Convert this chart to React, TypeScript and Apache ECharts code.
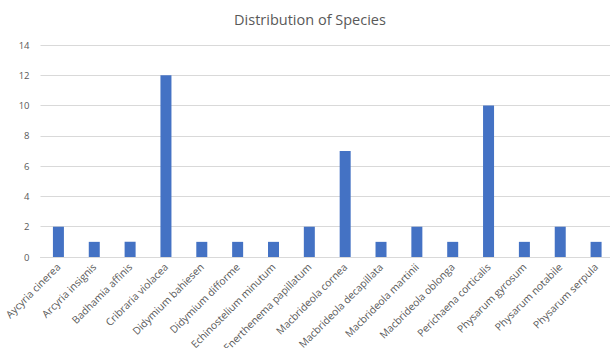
import React, { useEffect, useRef } from "react";
import * as echarts from "echarts";

const categories = [
  "Aycyria cinerea",
  "Arcyria insignis",
  "Badhamia affinis",
  "Cribraria violacea",
  "Didymium bahiesen",
  "Didymium difforme",
  "Echinostelium minutum",
  "Enerthenema papillatum",
  "Macbrideola cornea",
  "Macbrideola decapillata",
  "Macbrideola martinii",
  "Macbrideola oblonga",
  "Perichaena corticalis",
  "Physarum gyrosum",
  "Physarum notabile",
  "Physarum serpula",
];
const counts = [2, 1, 1, 12, 1, 1, 1, 2, 7, 1, 2, 1, 10, 1, 2, 1];

export default function App() {
  const ref = useRef<HTMLDivElement>(null);
  useEffect(() => {
    const chart = echarts.init(ref.current!, undefined, { renderer: "svg" });
    chart.setOption({
      animation: false,
      title: {
        text: "Distribution of Species",
        left: 305,
        textAlign: "center",
        top: 7,
        textStyle: { fontFamily: "Open Sans", fontSize: 14.5, fontWeight: "normal", color: "#595959" },
      },
      grid: { left: 40.5, right: 0, top: 45, bottom: 91, outerBoundsMode: "none", containLabel: false },
      xAxis: {
        type: "category",
        data: categories,
        axisTick: { show: false },
        axisLine: { lineStyle: { color: "#d9d9d9" } },
        axisLabel: {
          rotate: 45,
          interval: 0,
          margin: 8,
          fontFamily: "Open Sans",
          fontSize: 10.3,
          color: "#595959",
        },
      },
      yAxis: {
        type: "value",
        min: 0,
        max: 14,
        interval: 2,
        axisLabel: { fontFamily: "Open Sans", fontSize: 9.5, color: "#595959", margin: 11 },
        splitLine: { lineStyle: { color: "#d9d9d9" } },
      },
      series: [
        {
          type: "bar",
          data: counts,
          barWidth: 11,
          itemStyle: { color: "#4472C4" },
        },
      ],
    });
    return () => chart.dispose();
  }, []);
  return (
    <div
      style={{ position: "absolute", left: 0, top: 0, width: 610, height: 348, overflow: "hidden" }}
    >
      <div ref={ref} style={{ width: 614, height: 348 }} />
    </div>
  );
}
